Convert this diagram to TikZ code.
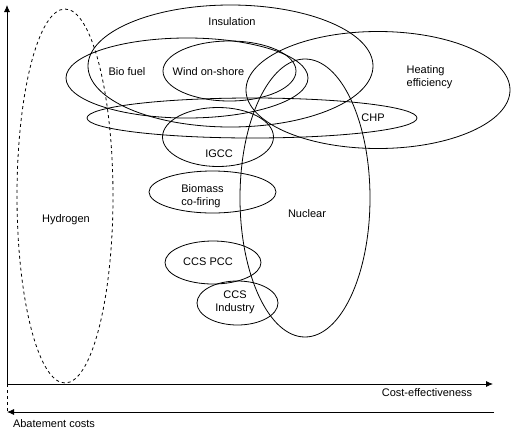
\documentclass[tikz,border=0pt]{standalone}
\usepackage{fontspec}
\setmainfont{Liberation Sans}
\usetikzlibrary{shapes.geometric,arrows.meta}
\begin{document}
\begin{tikzpicture}[x=1pt,y=-1pt,
  area/.style={draw=black,line width=0.8pt,shape=ellipse,inner sep=0pt},
  lbl/.style={font=\fontsize{11}{13}\selectfont,inner sep=0pt,align=center},
  axis/.style={line width=0.8pt,-{Latex[length=7pt,width=6pt]}}]
\useasboundingbox (0,0) rectangle (517,432);
% ellipses
\node[area,dashed,minimum width=96,minimum height=374] (hyd) at (65,196) {};
\node[area,minimum width=285,minimum height=122] (ins) at (230.5,66) {};
\node[area,minimum width=242,minimum height=80] (bio) at (187,78) {};
\node[area,minimum width=133,minimum height=60] (wind) at (229.5,71) {};
\node[area,minimum width=264,minimum height=117] (heat) at (378,90) {};
\node[area,minimum width=330,minimum height=40] (chp) at (252,118) {};
\node[area,minimum width=130,minimum height=278] (nuc) at (305,198) {};
\node[area,minimum width=111,minimum height=59] (igcc) at (218,137) {};
\node[area,minimum width=127,minimum height=42] (bmc) at (212.5,192) {};
\node[area,minimum width=96,minimum height=43] (pcc) at (213,262.5) {};
\node[area,minimum width=81,minimum height=44] (ccsi) at (237.5,303) {};
% labels
\node[lbl] (lhyd) at (66,220) {Hydrogen};
\node[lbl] (lins) at (232,22) {Insulation};
\node[lbl] (lbio) at (127,72) {Bio fuel};
\node[lbl] (lwind) at (208.5,72) {Wind on-shore};
\node[lbl,align=left] (lheat) at (429.5,77) {Heating\\efficiency};
\node[lbl] (lchp) at (373,118) {CHP};
\node[lbl] (lnuc) at (307,214) {Nuclear};
\node[lbl] (ligcc) at (219,154) {IGCC};
\node[lbl,align=left] (lbmc) at (202.5,196) {Biomass\\co-firing};
\node[lbl] (lpcc) at (208,262) {CCS PCC};
\node[lbl] (lccsi) at (235,302.5) {CCS\\Industry};
% axes
\coordinate (O) at (7,384);
\coordinate (ytop) at (7,5);
\coordinate (xend) at (493,384);
\coordinate (b0) at (7,412);
\coordinate (bstart) at (494,412);
\draw[axis] (O) -- (ytop);
\draw[axis] (O) -- (xend);
\draw[axis] (bstart) -- (b0);
\draw[line width=0.8pt,dashed] (O) -- (b0);
\node[lbl] (lce) at (427,393) {Cost-effectiveness};
\node[lbl] (lab) at (54,424) {Abatement costs};
\end{tikzpicture}
\end{document}
